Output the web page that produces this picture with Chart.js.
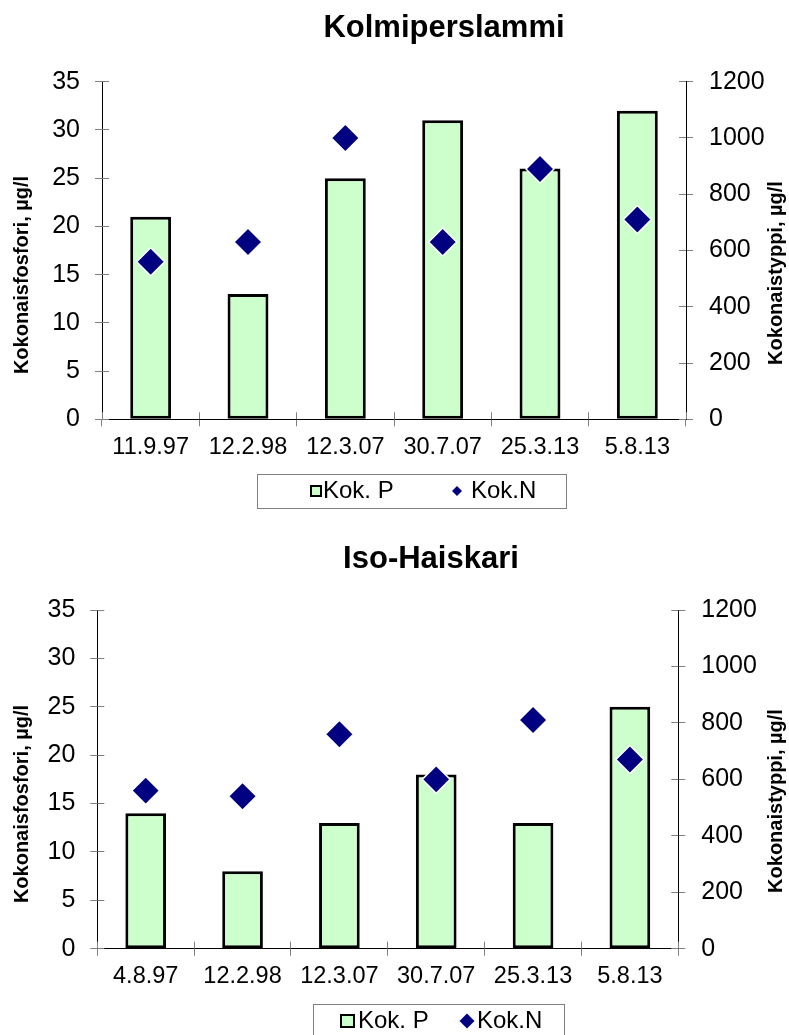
<!DOCTYPE html>
<html><head><meta charset="utf-8">
<script src="https://cdn.jsdelivr.net/npm/chart.js@4"></script>
<style>
html,body{margin:0;padding:0;background:#fff;width:789px;height:1035px;overflow:hidden}
.w{position:absolute;left:0}
canvas{display:block}
</style></head><body>
<div class="w" style="top:0"><canvas id="c1" width="789" height="520"></canvas></div>
<div class="w" style="top:520px"><canvas id="c2" width="789" height="515"></canvas></div>
<script>
const titles = ['Kolmiperslammi', 'Iso-Haiskari'];
const categories1 = ['11.9.97', '12.2.98', '12.3.07', '30.7.07', '25.3.13', '5.8.13'];
const categories2 = ['4.8.97', '12.2.98', '12.3.07', '30.7.07', '25.3.13', '5.8.13'];
const kokP1 = [21, 13, 25, 31, 26, 32];
const kokN1 = [560, 630, 1000, 630, 890, 710];
const kokP2 = [14, 8, 13, 18, 13, 25];
const kokN2 = [560, 540, 760, 600, 810, 670];
const seriesNames = ['Kok. P', 'Kok.N'];
const leftTicks = [0, 5, 10, 15, 20, 25, 30, 35];
const rightTicks = [0, 200, 400, 600, 800, 1000, 1200];
const axisTitles = ['Kokonaisfosfori, µg/l', 'Kokonaistyppi, µg/l'];

const F = "'Liberation Sans', Arial, Helvetica, sans-serif";

const decor = {
  id: 'decor',
  afterDraw(chart) {
    const g = chart.options.plugins.decor;
    const ctx = chart.ctx;
    const a = chart.chartArea;
    ctx.save();
    // inner halves of crossing tick marks
    ctx.strokeStyle = '#808080';
    ctx.lineWidth = 1;
    const al = p => Math.round(p - 0.5) + 0.5;
    const xs = chart.scales.x;
    const n = chart.data.labels.length;
    ctx.beginPath();
    for (let i = 0; i <= n; i++) {
      const px = al(xs.getPixelForValue(i - 0.5));
      ctx.moveTo(px, a.bottom);
      ctx.lineTo(px, a.bottom - 7);
    }
    const ys = chart.scales.y;
    ys.ticks.forEach(t => {
      const py = al(ys.getPixelForValue(t.value));
      ctx.moveTo(a.left, py);
      ctx.lineTo(a.left + 7, py);
    });
    const y1 = chart.scales.y1;
    y1.ticks.forEach(t => {
      const py = al(y1.getPixelForValue(t.value));
      ctx.moveTo(a.right, py);
      ctx.lineTo(a.right - 7, py);
    });
    ctx.stroke();

    // title
    ctx.fillStyle = '#000';
    ctx.font = 'bold 31px ' + F;
    ctx.textAlign = 'center';
    ctx.textBaseline = 'alphabetic';
    ctx.fillText(g.title, g.tx, g.ty);

    // axis titles
    ctx.font = 'bold 20px ' + F;
    [[axisTitles[0], g.lt], [axisTitles[1], g.rt]].forEach(([txt, p]) => {
      ctx.save();
      ctx.translate(p.x, p.y);
      ctx.rotate(-Math.PI / 2);
      ctx.textAlign = 'center';
      ctx.textBaseline = 'alphabetic';
      ctx.fillText(txt, 0, 0);
      ctx.restore();
    });

    // legend
    const L = g.legend;
    ctx.strokeStyle = '#808080';
    ctx.lineWidth = 1;
    ctx.strokeRect(L.box[0] + 0.5, L.box[1] + 0.5, L.box[2], L.box[3]);
    ctx.fillStyle = '#CCFFCC';
    ctx.fillRect(L.sq[0], L.sq[1], L.sq[2], L.sq[3]);
    ctx.strokeStyle = '#000';
    ctx.lineWidth = 2;
    ctx.strokeRect(L.sq[0], L.sq[1], L.sq[2], L.sq[3]);
    ctx.fillStyle = '#000080';
    ctx.beginPath();
    const [dx, dy, dr] = L.dia;
    ctx.moveTo(dx, dy - dr); ctx.lineTo(dx + dr, dy); ctx.lineTo(dx, dy + dr); ctx.lineTo(dx - dr, dy);
    ctx.closePath();
    ctx.fill();
    ctx.fillStyle = '#000';
    ctx.font = '24px ' + F;
    ctx.textAlign = 'left';
    ctx.textBaseline = 'middle';
    ctx.fillText(seriesNames[0], L.t1x, L.ty);
    ctx.fillText(seriesNames[1], L.t2x, L.ty);
    ctx.restore();
  }
};

function build(id, H, W, area, cats, P, N, geo) {
  const gridOpts = {drawOnChartArea: false, drawTicks: true, tickLength: 7, color: '#808080', tickColor: '#808080', lineWidth: 1};
  const borderOpts = {display: true, color: '#000', width: 1};
  return new Chart(document.getElementById(id), {
    type: 'bar',
    data: {
      labels: cats,
      datasets: [
        {type: 'line', label: seriesNames[1], data: N, yAxisID: 'y1', showLine: false,
         pointStyle: 'rectRot', pointRadius: 14, pointHoverRadius: 14,
         pointBackgroundColor: '#000080', pointBorderColor: '#ffffff', pointBorderWidth: 1.5,
         order: 0, clip: false},
        {type: 'bar', label: seriesNames[0], data: P, yAxisID: 'y',
         backgroundColor: '#CCFFCC', borderColor: '#000000', borderWidth: 3, borderSkipped: false,
         barPercentage: 0.42, categoryPercentage: 1, order: 1}
      ]
    },
    options: {
      responsive: false, animation: false, events: [], devicePixelRatio: 1,
      layout: {padding: {top: area.top, left: 0, right: 0, bottom: 0}},
      plugins: {legend: {display: false}, tooltip: {enabled: false}, title: {display: false}, decor: geo},
      scales: {
        x: {position: 'bottom', offset: true, grid: Object.assign({offset: true}, gridOpts), border: borderOpts,
            ticks: {color: '#000', font: {family: F, size: 23.5}, padding: 7, maxRotation: 0, minRotation: 0, autoSkip: false},
            afterFit: s => { s.height = H - area.bottom; }},
        y: {position: 'left', min: 0, max: 35, grid: gridOpts, border: borderOpts,
            afterBuildTicks: s => { s.ticks = leftTicks.map(v => ({value: v})); },
            ticks: {color: '#000', font: {family: F, size: 25}, padding: 15, callback: v => String(v)},
            afterFit: s => { s.width = area.left; }},
        y1: {position: 'right', min: 0, max: 1200, grid: gridOpts, border: borderOpts,
            afterBuildTicks: s => { s.ticks = rightTicks.map(v => ({value: v})); },
            ticks: {color: '#000', font: {family: F, size: 25}, padding: 16, callback: v => String(v)},
            afterFit: s => { s.width = W - area.right; }}
      }
    },
    plugins: [decor]
  });
}

build('c1', 520, 789, {left: 102, right: 686, top: 81.7, bottom: 419.3}, categories1, kokP1, kokN1, {
  title: titles[0], tx: 444, ty: 37,
  lt: {x: 28, y: 275}, rt: {x: 782, y: 273},
  legend: {box: [257, 474, 309, 34], sq: [311, 486, 10, 10], t1x: 323, dia: [457, 491, 5], t2x: 471, ty: 491}
});
build('c2', 515, 789, {left: 97.3, right: 678.3, top: 90, bottom: 428.7}, categories2, kokP2, kokN2, {
  title: titles[1], tx: 431, ty: 48,
  lt: {x: 28, y: 284}, rt: {x: 782, y: 281},
  legend: {box: [313, 484, 251, 40], sq: [341, 495, 13, 12], t1x: 358, dia: [467, 501, 7.5], t2x: 477, ty: 501}
});
</script>
</body></html>
